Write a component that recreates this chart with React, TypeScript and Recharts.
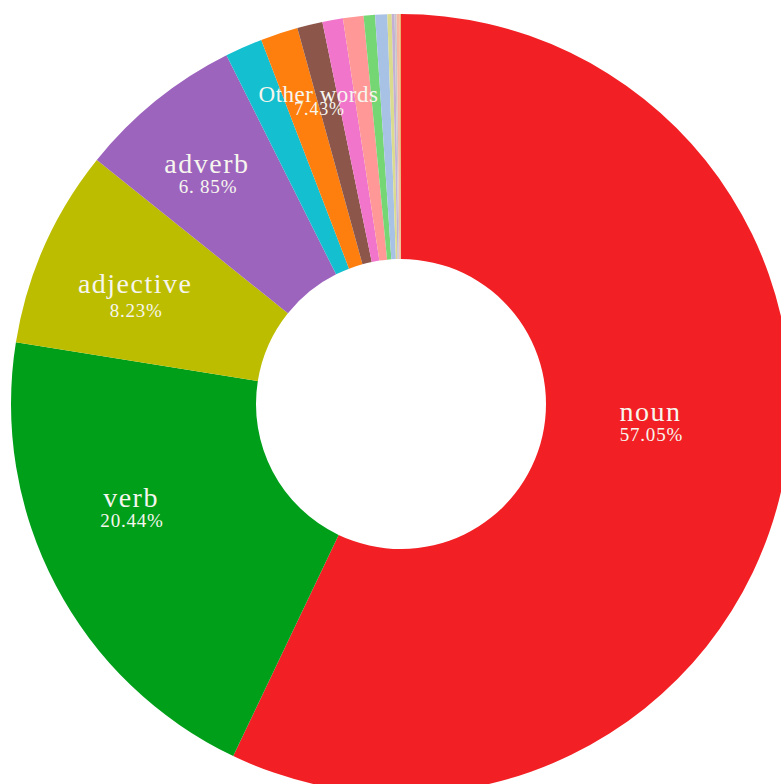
import React from "react";
import { PieChart, Pie, Cell } from "recharts";

// Individual slices (percent shares), drawn clockwise from 12 o'clock
const sliceNames = [
  "noun", "verb", "adjective", "adverb",
  "other-1", "other-2", "other-3", "other-4", "other-5", "other-6",
  "other-7", "other-8", "other-9", "other-10", "other-11", "other-12",
];
const sliceValues = [
  57.05, 20.44, 8.23, 6.85,
  1.55, 1.55, 1.05, 0.85, 0.85, 0.47, 0.5, 0.18, 0.12, 0.08, 0.12, 0.06,
];
const sliceColors = [
  "#f22024", "#009f1a", "#bdbd00", "#9d64be",
  "#14bfcf", "#ff7f0e", "#8c564b", "#f075cb", "#ff9896", "#74d774",
  "#a8c2e6", "#dbdb8d", "#c5b0d5", "#c7c7c7", "#f7b6a2", "#e8b070",
];

// Label groups
const groupNames = ["noun", "verb", "adjective", "adverb", "Other words"];
const groupValues = [57.05, 20.44, 8.23, 6.85, 7.43];
const groupPercentLabels = ["57.05%", "20.44%", "8.23%", "6. 85%", "7.43%"];

// Label layout: clockwise angle shift from group mid-angle (deg), radius, font sizes, line gap
const labelLayout = [
  { shift: -8.8, r: 250, nameSize: 28, pctSize: 19, gap: 20 },
  { shift: 6.9, r: 289, nameSize: 28, pctSize: 19, gap: 20 },
  { shift: -1.15, r: 288, nameSize: 28, pctSize: 19, gap: 24 },
  { shift: -0.9, r: 302, nameSize: 28, pctSize: 19, gap: 20 },
  { shift: -1.9, r: 313, nameSize: 23, pctSize: 18, gap: 13 },
];

const slices = sliceNames.map((name, i) => ({ name, value: sliceValues[i] }));
const groups = groupNames.map((name, i) => ({
  name,
  value: groupValues[i],
  pct: groupPercentLabels[i],
}));

const RAD = Math.PI / 180;
const FONT = '"Liberation Serif", "Times New Roman", Times, serif';

function renderLabel(props: any) {
  const { cx, cy, midAngle, index } = props;
  const L = labelLayout[index];
  const ang = midAngle - L.shift;
  const x = cx + L.r * Math.cos(ang * RAD);
  const y = cy - L.r * Math.sin(ang * RAD);
  const g = groups[index];
  const isOther = index === 4;
  return (
    <g key={`lbl-${index}`}>
      <text
        x={x}
        y={y}
        textAnchor="middle"
        fill="#f6f6ee"
        style={{
          fontFamily: FONT,
          fontSize: L.nameSize,
          letterSpacing: isOther ? 0.5 : 1.5,
        }}
      >
        {g.name}
      </text>
      <text
        x={x + 1}
        y={y + L.gap}
        textAnchor="middle"
        fill="#f6f6ee"
        style={{ fontFamily: FONT, fontSize: L.pctSize, letterSpacing: 0.8 }}
      >
        {g.pct}
      </text>
    </g>
  );
}

export default function App() {
  return (
    <div
      style={{
        position: "absolute",
        left: 0,
        top: 0,
        width: 781,
        height: 784,
        overflow: "hidden",
        background: "#ffffff",
        fontFamily: FONT,
      }}
    >
      <PieChart width={781} height={784} margin={{ top: 0, right: 0, bottom: 0, left: 0 }}>
        <Pie
          data={slices}
          dataKey="value"
          nameKey="name"
          cx={401}
          cy={404}
          innerRadius={145}
          outerRadius={390}
          startAngle={90}
          endAngle={-270}
          stroke="none"
          isAnimationActive={false}
        >
          {slices.map((s, i) => (
            <Cell key={s.name} fill={sliceColors[i]} stroke="none" />
          ))}
        </Pie>
        <Pie
          data={groups}
          dataKey="value"
          nameKey="name"
          cx={401}
          cy={404}
          innerRadius={145}
          outerRadius={390}
          startAngle={90}
          endAngle={-270}
          fill="none"
          stroke="none"
          label={renderLabel}
          labelLine={false}
          isAnimationActive={false}
        >
          {groups.map((g) => (
            <Cell key={g.name} fill="none" stroke="none" />
          ))}
        </Pie>
      </PieChart>
    </div>
  );
}
